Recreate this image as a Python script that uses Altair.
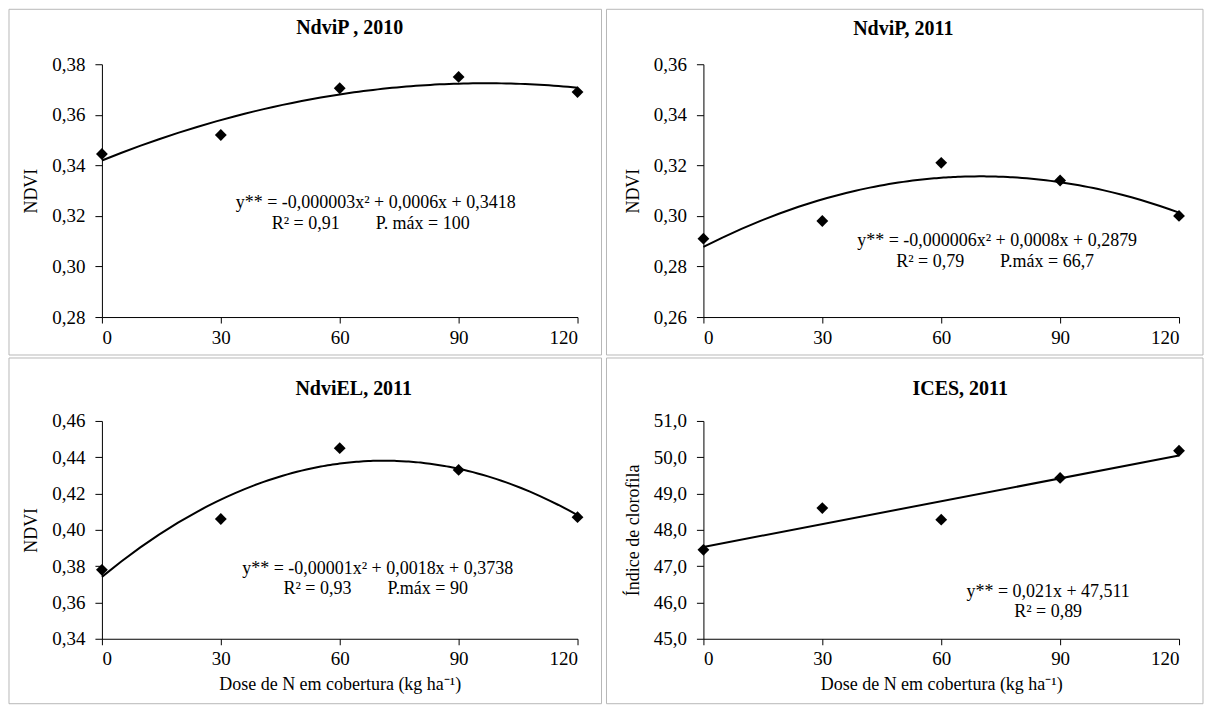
import altair as alt
import pandas as pd

# ---- data ----
doses = [0, 30, 60, 90, 120]
ndvip_2010 = [0.3445, 0.352, 0.3705, 0.375, 0.369]
ndvip_2011 = [0.291, 0.298, 0.321, 0.314, 0.300]
ndviel_2011 = [0.378, 0.406, 0.445, 0.433, 0.407]
ices_2011 = [47.45, 48.60, 48.28, 49.43, 50.18]

titles = ["NdviP , 2010", "NdviP, 2011", "NdviEL, 2011", "ICES, 2011"]
y_titles = ["NDVI", "NDVI", "NDVI", "Índice de clorofila"]
x_title = "Dose de N em cobertura (kg ha⁻¹)"
y_domains = [[0.28, 0.38], [0.26, 0.36], [0.34, 0.46], [45.0, 51.0]]
y_ticks = [
    [0.28, 0.30, 0.32, 0.34, 0.36, 0.38],
    [0.26, 0.28, 0.30, 0.32, 0.34, 0.36],
    [0.34, 0.36, 0.38, 0.40, 0.42, 0.44, 0.46],
    [45.0, 46.0, 47.0, 48.0, 49.0, 50.0, 51.0],
]
NB = "\u00a0"
eq_line1 = [
    "y** = -0,000003x² + 0,0006x + 0,3418",
    "y** = -0,000006x² + 0,0008x + 0,2879",
    "y** = -0,00001x² + 0,0018x + 0,3738",
    "y** = 0,021x + 47,511",
]
eq_line2 = [
    "R² = 0,91" + NB * 8 + "P. máx = 100",
    "R² = 0,79" + NB * 8 + "P.máx = 66,7",
    "R² = 0,93" + NB * 8 + "P.máx = 90",
    "R² = 0,89",
]
fit_order = [2, 2, 2, 1]

FONT = "Liberation Serif"
W = 476
H_TOP = 253
H_BOT = 218
LABEL_SIZE = 19
TEXT_SIZE = 18


def panel(i, values, height, titlepos, eqpos, frame, show_x_title):
    df = pd.DataFrame({"dose": doses, "v": values})
    fmt = ".1f" if i == 3 else ".2f"
    x_axis_kw = dict(values=doses, tickSize=6, labelPadding=5, labelFontSize=LABEL_SIZE,
                     titleFontSize=TEXT_SIZE, titlePadding=7)
    if show_x_title:
        x = alt.X("dose:Q", scale=alt.Scale(domain=[0, 120], nice=False),
                  axis=alt.Axis(title=x_title, **x_axis_kw))
    else:
        x = alt.X("dose:Q", scale=alt.Scale(domain=[0, 120], nice=False),
                  axis=alt.Axis(title=None, **x_axis_kw))
    y = alt.Y("v:Q", scale=alt.Scale(domain=y_domains[i], nice=False, zero=False),
              axis=alt.Axis(title=y_titles[i], values=y_ticks[i], tickSize=7,
                            labelPadding=10, labelFontSize=LABEL_SIZE, titleFontSize=TEXT_SIZE,
                            titlePadding=11,
                            labelExpr=f"replace(format(datum.value, '{fmt}'), '.', ',')"))

    base = alt.Chart(df)
    if fit_order[i] == 2:
        reg = base.transform_regression("dose", "v", method="poly", order=2, extent=[0, 120])
    else:
        reg = base.transform_regression("dose", "v", method="linear", extent=[0, 120])
    line = reg.mark_line(color="black", strokeWidth=2).encode(x=x, y=y)
    pts = base.mark_point(shape="diamond", filled=True, color="black", size=140,
                          opacity=1).encode(x=x, y=y)

    one = pd.DataFrame({"k": [0]})
    tt = alt.Chart(one).mark_text(text=titles[i], font=FONT, fontSize=20, fontWeight="bold",
                                  color="black", align="center", baseline="middle").encode(
        x=alt.value(titlepos[0]), y=alt.value(titlepos[1]))
    t1 = alt.Chart(one).mark_text(text=eq_line1[i], font=FONT, fontSize=TEXT_SIZE, color="black",
                                  align="center", baseline="middle").encode(
        x=alt.value(eqpos[0]), y=alt.value(eqpos[1]))
    t2 = alt.Chart(one).mark_text(text=eq_line2[i], font=FONT, fontSize=TEXT_SIZE, color="black",
                                  align="center", baseline="middle").encode(
        x=alt.value(eqpos[2]), y=alt.value(eqpos[3]))
    fr = alt.Chart(one).mark_rect(fillOpacity=0, stroke="#b8b8b8", strokeWidth=1).encode(
        x=alt.value(frame[0]), x2=alt.value(frame[1]),
        y=alt.value(frame[2]), y2=alt.value(frame[3]))

    return alt.layer(fr, line, pts, tt, t1, t2).properties(width=W, height=height)


p1 = panel(0, ndvip_2010, H_TOP, (248, -36), (274, 139, 269, 160), (-93, 500, -55, 291), False)
p2 = panel(1, ndvip_2011, H_TOP, (200, -35), (294, 177, 292, 198), (-97, 500, -55, 291), False)
p3 = panel(2, ndviel_2011, H_BOT, (252, -32), (276, 148, 274, 168), (-93, 500, -63, 283), True)
p4 = panel(3, ices_2011, H_BOT, (257, -32), (345, 171, 345, 191), (-97, 500, -63, 283), True)

chart = alt.concat(p1, p2, p3, p4, columns=2, spacing={"row": 104, "column": 126},
                   bounds="flush").resolve_scale(
    x="independent", y="independent"
).properties(padding=0).configure_view(stroke=None).configure_axis(
    grid=False, domainColor="black", tickColor="black", labelColor="black",
    titleColor="black", labelFont=FONT, titleFont=FONT, titleFontWeight="normal",
    domainWidth=1, tickWidth=1,
)

chart.save("out.html", embed_options={"renderer": "svg", "actions": False})
